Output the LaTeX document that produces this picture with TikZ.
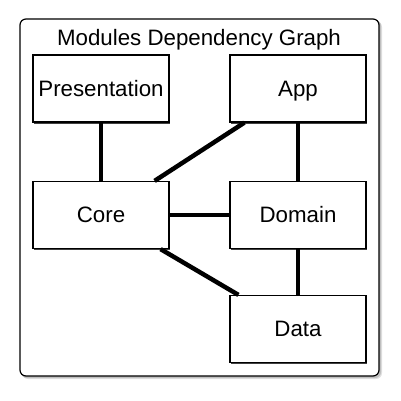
\documentclass[tikz,border=0pt]{standalone}
\usepackage{fontspec}
\setmainfont{Liberation Sans}
\usetikzlibrary{calc}
\begin{document}
\begin{tikzpicture}[x=1pt,y=-1pt,
  modbox/.style={draw=black, line width=1.2pt, fill=white, minimum width=136pt, minimum height=67pt, inner sep=0pt, text height=17pt, text depth=2pt, font=\fontsize{22.3}{24}\selectfont},
  link/.style={line width=4.5pt, line cap=butt},
  boxshadow/.style={fill=black!75}]
\useasboundingbox (0,0) rectangle (400,401);
% outer frame with soft shadow
\fill[black!12, rounded corners=6pt] (22,21) rectangle (382,379);
\fill[black!25, rounded corners=6pt] (21,20) rectangle (381,378);
\draw[line width=1.2pt, fill=white, rounded corners=6pt] (20,19) rectangle (379,376);
\node[anchor=base, font=\fontsize{22.3}{24}\selectfont] (title) at (199,46) {Modules Dependency Graph};
% box shadows
\foreach \x/\y in {33/55, 230/55, 33/181, 230/181, 230/295}
  \fill[boxshadow] (\x+1,\y+1) rectangle (\x+137,\y+68.5);
\node[modbox] (pres) at (101,88.5) {Presentation};
\node[modbox] (app) at (298,88.5) {App};
\node[modbox] (core) at (101,215) {Core};
\node[modbox] (dom) at (298,215) {Domain};
\node[modbox] (data) at (298,329) {Data};
% connectors
\draw[link] (pres.south) -- (core.north);
\draw[link] (app.south) -- (dom.north);
\draw[link] (dom.south) -- (data.north);
\draw[link] (core.east) -- (dom.west);
\draw[link] ($(core.north east)+(-15,0)$) -- ($(app.south west)+(15,0)$);
\draw[link] ($(core.south east)+(-9,0)$) -- ($(data.north west)+(9,0)$);
\end{tikzpicture}
\end{document}
